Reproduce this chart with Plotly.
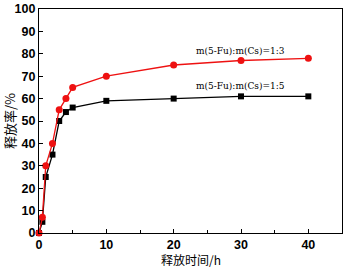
import plotly.graph_objects as go

time_h = [0, 0.5, 1, 2, 3, 4, 5, 10, 20, 30, 40]
release_13 = [0, 7, 30, 40, 55, 60, 65, 70, 75, 77, 78]
release_15 = [0, 5, 25, 35, 50, 54, 56, 59, 60, 61, 61]
label_13 = "m(5-Fu):m(Cs)=1:3"
label_15 = "m(5-Fu):m(Cs)=1:5"
x_title = "释放时间/h"
y_title = "释放率/%"
x_ticks = [0, 10, 20, 30, 40]
y_ticks = [0, 10, 20, 30, 40, 50, 60, 70, 80, 90, 100]

fig = go.Figure()
fig.add_trace(go.Scatter(x=time_h, y=release_15, mode="lines+markers",
                         line=dict(color="#000000", width=1.3),
                         marker=dict(symbol="square", size=6, color="#000000"),
                         showlegend=False, cliponaxis=False))
fig.add_trace(go.Scatter(x=time_h, y=release_13, mode="lines+markers",
                         line=dict(color="#ee1111", width=1.3),
                         marker=dict(symbol="circle", size=7, color="#ee1111"),
                         showlegend=False, cliponaxis=False))

fig.add_annotation(x=30, y=release_13[-2], text=label_13, showarrow=False,
                   yshift=10, xshift=-1,
                   font=dict(family="DejaVu Serif, serif", size=9, color="#000"))
fig.add_annotation(x=30, y=release_15[-2], text=label_15, showarrow=False,
                   yshift=10, xshift=-1,
                   font=dict(family="DejaVu Serif, serif", size=9, color="#000"))
fig.add_annotation(x=0.5, y=0, xref="paper", yref="paper", text=x_title,
                   showarrow=False, yanchor="top", yshift=-17, borderpad=0,
                   font=dict(family="Noto Sans CJK SC, sans-serif", size=12, color="#000"))

axis_common = dict(showgrid=False, zeroline=False, showline=True, linecolor="#000",
                   linewidth=1.2, mirror=True, ticks="inside", ticklen=4,
                   tickcolor="#000", tickwidth=1,
                   tickfont=dict(family="Liberation Sans, Arial, sans-serif", size=12.5,
                                 color="#000"))

fig.update_xaxes(range=[0, 45], tickvals=x_ticks, ticktext=["<b>%d</b>" % v for v in x_ticks],
                 minor=dict(ticks="inside", ticklen=3, dtick=5, tickcolor="#000"),
                 **axis_common)
fig.update_yaxes(range=[0, 100], tickvals=y_ticks, ticktext=["<b>%d</b>" % v for v in y_ticks],
                 title=dict(text=y_title, standoff=2,
                            font=dict(family="Noto Sans CJK SC, sans-serif", size=13, color="#000")),
                 **axis_common)

fig.update_layout(width=344, height=268, margin=dict(l=39, r=2, t=9, b=35),
                  plot_bgcolor="#fff", paper_bgcolor="#fff")

fig.write_html("out.html", config={"displayModeBar": False},
               post_script="document.body.style.margin='0';")
